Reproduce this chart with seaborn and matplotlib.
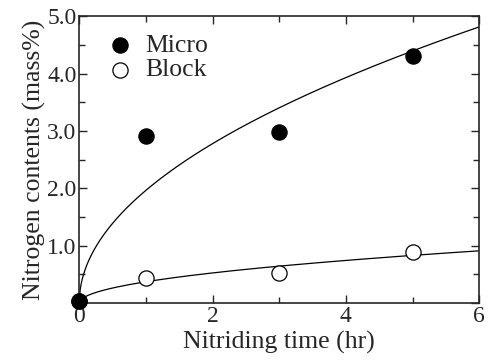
import numpy as np
import pandas as pd
import seaborn as sns
import matplotlib
matplotlib.use("Agg")
import matplotlib.pyplot as plt
from matplotlib.ticker import MultipleLocator, FuncFormatter

# data
time_hr = [0, 1, 3, 5]
micro = [0.03, 2.91, 2.98, 4.30]
block = [0.03, 0.44, 0.53, 0.89]

sns.set_style("ticks")
plt.rcParams["font.family"] = ["Liberation Serif", "DejaVu Serif"]

df = pd.DataFrame({
    "time": time_hr * 2,
    "N": micro + block,
    "sample": ["Micro"] * len(time_hr) + ["Block"] * len(time_hr),
})

# parabolic (sqrt t) least-squares fit for each series
t_fit = np.linspace(0, 6, 400)
fits = []
for name, vals in [("Micro", micro), ("Block", block)]:
    t = np.array(time_hr, dtype=float)
    y = np.array(vals)
    k = np.sum(y * np.sqrt(t)) / np.sum(t)
    fits.append(pd.DataFrame({"time": t_fit, "N": k * np.sqrt(t_fit), "sample": name}))
fit_df = pd.concat(fits)

fig, ax = plt.subplots(figsize=(4.89, 3.6), dpi=100)
fig.subplots_adjust(left=0.162, right=0.980, top=0.955, bottom=0.158)

sns.lineplot(data=fit_df, x="time", y="N", units="sample", estimator=None,
             color="black", linewidth=0.9, ax=ax, legend=False)

sns.scatterplot(data=df[df["sample"] == "Block"], x="time", y="N", ax=ax,
                marker="o", s=120, facecolor="white", edgecolor="black",
                linewidth=0.9, label="Block", zorder=3, clip_on=False)
sns.scatterplot(data=df[df["sample"] == "Micro"], x="time", y="N", ax=ax,
                marker="o", s=120, color="black", edgecolor="black",
                linewidth=0.9, label="Micro", zorder=4, clip_on=False)

ax.set_xlim(0, 6)
ax.set_ylim(0, 5.0)
ax.xaxis.set_major_locator(MultipleLocator(2))
ax.xaxis.set_minor_locator(MultipleLocator(1))
ax.yaxis.set_major_locator(MultipleLocator(1))
ax.yaxis.set_minor_locator(MultipleLocator(0.5))
ax.yaxis.set_major_formatter(FuncFormatter(lambda v, p: "" if abs(v) < 1e-9 else f"{v:.1f}"))
ax.tick_params(which="both", direction="in", top=True, right=True, labelsize=17, width=1, pad=2)
ax.tick_params(which="major", length=6)
ax.tick_params(which="minor", length=4)
for sp in ax.spines.values():
    sp.set_linewidth(1.2)

ax.set_xlabel("Nitriding time (hr)", fontsize=18.5, labelpad=3)
ax.set_ylabel("Nitrogen contents (mass%)", fontsize=18.5, labelpad=1)

handles, labels = ax.get_legend_handles_labels()
order = [labels.index("Micro"), labels.index("Block")]
ax.legend([handles[i] for i in order], [labels[i] for i in order],
          loc="upper left", frameon=False, fontsize=18.5,
          bbox_to_anchor=(0.026, 1.0), handletextpad=0.47, labelspacing=0.05,
          handlelength=1.0, borderaxespad=0.3)

plt.savefig("out.png", dpi=100)
